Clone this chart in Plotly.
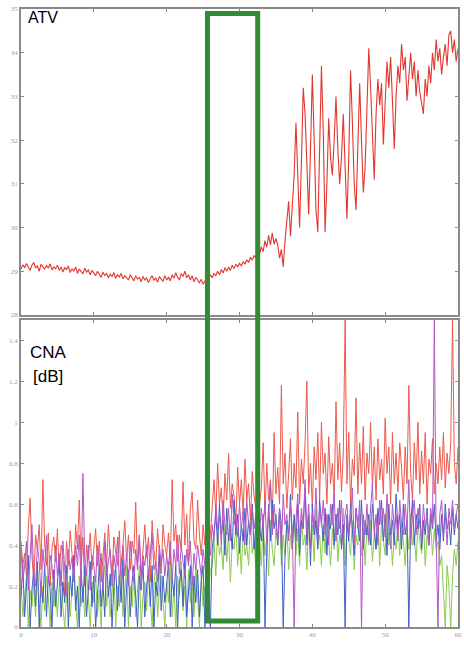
import numpy as np
import plotly.graph_objects as go

# Time axis (s) and the ATV trace, sampled every 0.25
atv_step = 0.25
atv = [
    29.05, 29.15, 29.08, 29.18, 29.1, 29.02, 29.14, 29.2, 29.08, 29.12, 29.0, 29.16, 29.1, 29.05, 29.13, 29.07, 29.17, 29.03, 29.1, 29.06, 29.14,
    29.02, 29.1, 28.98, 29.08, 29.04, 29.12, 28.97, 29.06, 29.0, 29.1, 28.95, 29.05, 29.0, 28.94, 29.07, 28.98, 29.03, 28.92, 29.02, 28.97,
    28.9, 29.0, 28.93, 28.86, 28.98, 28.9, 28.95, 28.85, 28.93, 28.88, 28.97, 28.84, 28.92, 28.87, 28.95, 28.83, 28.9, 28.86, 28.8, 28.92,
    28.84, 28.78, 28.9, 28.82, 28.86, 28.76, 28.88, 28.8, 28.85, 28.74, 28.83, 28.9, 28.79, 28.85, 28.75, 28.88, 28.82, 28.77, 28.9, 28.8,
    28.86, 28.78, 28.92, 28.84, 28.97, 28.86, 28.8, 28.95, 28.88, 29.0, 28.85, 28.92, 28.8, 28.9, 28.76, 28.86, 28.8, 28.74, 28.82, 28.7,
    28.78, 28.86, 28.8, 28.92, 28.85, 28.95, 28.9, 29.0, 28.92, 29.04, 28.96, 29.08, 29.0, 29.1, 29.02, 29.14, 29.06, 29.16, 29.1, 29.18,
    29.12, 29.22, 29.16, 29.26, 29.2, 29.32, 29.25, 29.36, 29.3, 29.48, 29.4, 29.56, 29.45, 29.7, 29.55, 29.82, 29.6, 29.88, 29.62, 29.75,
    29.6, 29.3, 29.5, 29.1, 29.7, 30.2, 30.6, 29.8, 30.5, 31.2, 32.4, 31.0, 30.0, 31.5, 33.2, 32.6, 31.2, 30.3, 31.8, 33.5,
    32.0, 30.4, 29.9, 31.8, 33.7, 32.2, 29.9, 31.0, 32.5, 31.6, 31.2, 32.0, 33.0, 31.8, 31.0, 31.6, 32.6, 31.4, 30.2, 31.6,
    33.6, 32.4, 31.0, 30.4, 32.0, 33.3, 32.0, 30.8, 31.4, 33.0, 34.1, 33.2, 32.3, 31.1, 32.6, 33.4, 32.8, 33.3, 31.9, 33.0,
    33.8, 33.2, 33.9, 32.9, 31.8, 33.0, 33.7, 33.3, 34.2, 33.6, 33.9, 32.9, 33.5, 34.0, 33.4, 33.8, 33.0, 33.6, 33.1, 32.8,
    32.6, 33.4, 33.0, 33.7, 33.3, 34.0, 33.6, 34.3, 33.8, 34.1, 33.5, 33.9, 34.2, 33.7, 34.4, 34.5, 34.0, 34.3, 33.8, 34.1,
]

# CNA channels [dB], sampled every 0.25
cna_step = 0.25
cna_red = [
    0.42, 0.3, 0.36, 0.25, 0.48, 0.63, 0.35, 0.22, 0.45, 0.38, 0.5, 0.28, 0.72, 0.4, 0.3, 0.46, 0.2, 0.38, 0.44, 0.32,
    0.48, 0.26, 0.4, 0.35, 0.15, 0.42, 0.3, 0.47, 0.36, 0.25, 0.5, 0.38, 0.62, 0.3, 0.44, 0.2, 0.4, 0.33, 0.46, 0.28,
    0.38, 0.48, 0.3, 0.42, 0.22, 0.36, 0.46, 0.3, 0.5, 0.35, 0.25, 0.44, 0.38, 0.3, 0.47, 0.2, 0.4, 0.52, 0.32, 0.45,
    0.28, 0.42, 0.36, 0.61, 0.3, 0.45, 0.25, 0.4, 0.5, 0.34, 0.44, 0.22, 0.52, 0.38, 0.3, 0.48, 0.36, 0.26, 0.5, 0.4,
    0.35, 0.46, 0.3, 0.72, 0.42, 0.5, 0.32, 0.45, 0.38, 0.71, 0.4, 0.55, 0.3, 0.58, 0.66, 0.42, 0.38, 0.62, 0.45, 0.35,
    0.5, 0.4, 0.58, 0.35, 0.45,
    0.62, 0.72, 0.55, 0.8, 0.6, 0.68, 0.52, 0.75, 0.62, 0.85, 0.58, 0.7, 0.64, 0.5, 0.78, 0.6, 0.72, 0.55, 0.82, 0.62,
    0.7, 0.52, 0.76, 0.64, 0.58, 0.7,
    0.6, 0.68, 0.9, 0.55, 0.8, 0.62, 0.72, 0.5, 0.95, 0.65, 0.78, 0.6, 1.18, 0.7, 0.85, 0.58, 0.75, 0.92, 0.62, 0.8,
    0.68, 1.05, 0.6, 0.82, 0.7, 0.9, 1.2, 0.65, 0.8, 0.58, 0.88, 0.72, 0.95, 0.62, 1.0, 0.75, 0.85, 0.6, 0.93, 0.7,
    0.8, 0.62, 1.1, 0.72, 0.9, 0.66, 0.85, 1.5, 0.7, 0.95, 0.6, 0.82, 0.74, 1.12, 0.65, 0.9, 0.7, 0.98, 0.62, 0.85,
    0.75, 1.0, 0.68, 0.88, 0.62, 0.92, 0.72, 0.82, 0.65, 1.02, 0.75, 0.88, 0.6, 0.95, 0.7, 0.85, 0.66, 0.9, 0.78, 0.62,
    0.88, 0.7, 1.18, 0.75, 0.62, 0.9, 0.72, 1.0, 0.65, 0.86, 0.7, 0.95, 0.6, 0.82, 0.75, 0.92, 0.65, 0.8, 0.7, 0.88,
    0.72, 0.95, 0.68, 0.85, 0.75, 0.9, 1.5, 0.8, 0.7, 0.88,
]
cna_magenta = [
    0.38, 0.22, 0.3, 0.42, 0.18, 0.35, 0.5, 0.25, 0.2, 0.4, 0.32, 0.15, 0.38, 0.28, 0.45, 0.22, 0.35, 0.3, 0.18, 0.4,
    0.25, 0.36, 0.2, 0.42, 0.3, 0.15, 0.38, 0.28, 0.34, 0.22, 0.4, 0.3, 0.45, 0.2, 0.75, 0.32, 0.25, 0.4, 0.18, 0.35,
    0.3, 0.22, 0.4, 0.28, 0.36, 0.18, 0.42, 0.25, 0.32, 0.38, 0.2, 0.35, 0.28, 0.44, 0.22, 0.3, 0.4, 0.25, 0.36, 0.2,
    0.42, 0.3, 0.22, 0.38, 0.28, 0.45, 0.2, 0.35, 0.3, 0.4, 0.24, 0.36, 0.46, 0.28, 0.32, 0.22, 0.4, 0.3, 0.38, 0.25,
    0.35, 0.28, 0.42, 0.22, 0.38, 0.3, 0.45, 0.26, 0.4, 0.32, 0.24, 0.38, 0.3, 0.42, 0.2, 0.36, 0.28, 0.4, 0.32, 0.25,
    0.38, 0.3, 0.22, 0.4, 0.35,
    0.5, 0.42, 0.6, 0.48, 0.55, 0.4, 0.62, 0.5, 0.45, 0.58, 0.42, 0.65, 0.5, 0.55, 0.44, 0.6, 0.48, 0.56, 0.4, 0.62,
    0.5, 0.45, 0.58, 0.48, 0.55, 0.5,
    0.45, 0.58, 0.48, 0.62, 0.4, 0.55, 0.7, 0.45, 0.6, 0.5, 0.42, 0.58, 0.38, 0.65, 0.5, 0.55, 0.42, 0.6, 0.48, 0.0,
    0.52, 0.65, 0.42, 0.58, 0.5, 0.72, 0.45, 0.6, 0.38, 0.55, 0.48, 0.68, 0.42, 0.58, 0.5, 0.62, 0.45, 0.55, 0.4, 0.6,
    0.5, 0.65, 0.42, 0.58, 0.48, 0.62, 0.4, 0.55, 0.6, 0.45, 0.52, 0.68, 0.4, 0.58, 0.48, 0.62, 0.0, 0.55, 0.45, 0.6,
    0.42, 0.58, 0.7, 0.45, 0.55, 0.4, 0.62, 0.5, 0.58, 0.44, 0.65, 0.5, 0.38, 0.6, 0.48, 0.55, 0.42, 0.62, 0.5, 0.45,
    0.6, 0.48, 0.72, 0.4, 0.55, 0.62, 0.45, 0.58, 0.5, 0.42, 0.6, 0.48, 0.55, 0.4, 0.58, 0.5, 1.5, 0.45, 0.0, 0.55,
    0.62, 0.45, 0.55, 0.4, 0.58, 0.5, 0.62, 0.48, 0.55, 0.6,
]
cna_blue = [
    0.15, 0.3, 0.05, 0.22, 0.35, 0.0, 0.18, 0.28, 0.1, 0.32, 0.0, 0.22, 0.12, 0.3, 0.05, 0.25, 0.18, 0.0, 0.28, 0.1,
    0.2, 0.33, 0.05, 0.22, 0.12, 0.3, 0.0, 0.25, 0.15, 0.35, 0.08, 0.2, 0.0, 0.28, 0.12, 0.3, 0.05, 0.22, 0.32, 0.1,
    0.25, 0.0, 0.18, 0.3, 0.1, 0.22, 0.05, 0.32, 0.15, 0.26, 0.0, 0.2, 0.3, 0.08, 0.25, 0.12, 0.33, 0.0, 0.2, 0.28,
    0.05, 0.22, 0.3, 0.12, 0.0, 0.25, 0.18, 0.32, 0.05, 0.2, 0.28, 0.1, 0.3, 0.0, 0.22, 0.15, 0.35, 0.08, 0.25, 0.12,
    0.2, 0.32, 0.05, 0.25, 0.15, 0.3, 0.0, 0.22, 0.28, 0.1, 0.35, 0.05, 0.2, 0.3, 0.0, 0.25, 0.12, 0.28, 0.05, 0.22,
    0.3, 0.0, 0.18, 0.1, 0.0,
    0.38, 0.48, 0.55, 0.4, 0.6, 0.45, 0.52, 0.35, 0.58, 0.42, 0.5, 0.38, 0.62, 0.45, 0.55, 0.36, 0.5, 0.42, 0.58, 0.4,
    0.52, 0.45, 0.6, 0.38, 0.5, 0.44,
    0.5, 0.42, 0.55, 0.0, 0.38, 0.6, 0.42, 0.62, 0.48, 0.55, 0.4, 0.58, 0.5, 0.0, 0.35, 0.52, 0.45, 0.65, 0.38, 0.55,
    0.42, 0.6, 0.35, 0.52, 0.48, 0.68, 0.4, 0.55, 0.3, 0.6, 0.45, 0.52, 0.38, 0.62, 0.5, 0.42, 0.58, 0.35, 0.55, 0.48,
    0.6, 0.4, 0.55, 0.45, 0.62, 0.38, 0.5, 0.0, 0.55, 0.42, 0.6, 0.48, 0.35, 0.58, 0.5, 0.42, 0.62, 0.38, 0.52, 0.45,
    0.55, 0.4, 0.6, 0.48, 0.38, 0.58, 0.5, 0.62, 0.42, 0.55, 0.35, 0.6, 0.45, 0.52, 0.4, 0.65, 0.48, 0.55, 0.38, 0.6,
    0.45, 0.52, 0.0, 0.5, 0.62, 0.4, 0.55, 0.48, 0.6, 0.38, 0.52, 0.45, 0.58, 0.4, 0.55, 0.48, 0.6, 0.42, 0.5, 0.38,
    0.55, 0.42, 0.6, 0.48, 0.52, 0.4, 0.58, 0.45, 0.55, 0.48,
]
cna_green = [
    0.2, 0.05, 0.15, 0.25, 0.0, 0.18, 0.1, 0.22, 0.05, 0.3, 0.12, 0.0, 0.2, 0.08, 0.25, 0.15, 0.0, 0.22, 0.1, 0.18,
    0.05, 0.2, 0.28, 0.1, 0.0, 0.15, 0.22, 0.05, 0.18, 0.3, 0.12, 0.0, 0.25, 0.1, 0.2, 0.05, 0.28, 0.15, 0.0, 0.22,
    0.12, 0.25, 0.05, 0.18, 0.0, 0.22, 0.3, 0.1, 0.2, 0.05, 0.15, 0.28, 0.0, 0.2, 0.1, 0.25, 0.05, 0.18, 0.3, 0.0,
    0.2, 0.1, 0.25, 0.05, 0.18, 0.3, 0.0, 0.15, 0.22, 0.08, 0.28, 0.12, 0.0, 0.2, 0.32, 0.05, 0.18, 0.25, 0.1, 0.0,
    0.22, 0.12, 0.3, 0.05, 0.2, 0.0, 0.25, 0.15, 0.32, 0.08, 0.2, 0.0, 0.28, 0.12, 0.22, 0.05, 0.3, 0.15, 0.0, 0.25,
    0.1, 0.2, 0.05, 0.15, 0.28,
    0.3, 0.42, 0.25, 0.48, 0.35, 0.4, 0.28, 0.5, 0.32, 0.45, 0.22, 0.42, 0.38, 0.5, 0.3, 0.44, 0.26, 0.48, 0.35, 0.4,
    0.3, 0.52, 0.36, 0.42, 0.28, 0.4,
    0.42, 0.3, 0.5, 0.35, 0.45, 0.25, 0.52, 0.38, 0.3, 0.48, 0.4, 0.55, 0.3, 0.45, 0.35, 0.5, 0.28, 0.45, 0.38, 0.52,
    0.35, 0.48, 0.3, 0.55, 0.4, 0.45, 0.28, 0.52, 0.38, 0.5, 0.32, 0.58, 0.4, 0.45, 0.3, 0.5, 0.36, 0.55, 0.42, 0.3,
    0.48, 0.38, 0.55, 0.32, 0.45, 0.4, 0.58, 0.3, 0.5, 0.42, 0.35, 0.52, 0.28, 0.45, 0.4, 0.55, 0.35, 0.48, 0.3, 0.5,
    0.4, 0.52, 0.32, 0.45, 0.38, 0.55, 0.3, 0.5, 0.42, 0.35, 0.58, 0.4, 0.48, 0.3, 0.45, 0.38, 0.52, 0.35, 0.5, 0.42,
    0.3, 0.48, 0.38, 0.55, 0.4, 0.45, 0.32, 0.5, 0.42, 0.36, 0.52, 0.3, 0.45, 0.4, 0.5, 0.35, 0.48, 0.38, 0.42, 0.3,
    0.35, 0.15, 0.0, 0.3, 0.2, 0.0, 0.25, 0.38, 0.3, 0.42,
]

# Highlighted time window
window_start, window_end = 25.6, 32.5

x_range = [0, 60]
atv_range = [28, 35]
cna_range = [0, 1.5]

t_atv = np.arange(len(atv)) * atv_step
t_cna = np.arange(len(cna_red)) * cna_step

fig = go.Figure()
fig.add_trace(go.Scatter(x=t_atv, y=atv, mode="lines",
                         line=dict(color="#e2372e", width=1.1), xaxis="x", yaxis="y"))

cna_series = [
    (cna_red, "#ec5a4e"),
    (cna_green, "#8acb4e"),
    (cna_blue, "#3f5fc6"),
    (cna_magenta, "#b457c4"),
]
for vals, col in cna_series:
    fig.add_trace(go.Scatter(x=t_cna, y=vals, mode="lines",
                             line=dict(color=col, width=1), xaxis="x2", yaxis="y2"))

axis_common = dict(
    showline=True, linecolor="#8a8a8a", linewidth=1.5, mirror="ticks",
    ticks="inside", ticklen=3, tickcolor="#8a8a8a", showgrid=False, zeroline=False,
    tickfont=dict(family="Liberation Serif", size=7, color="#9a9a9a"),
)

top_domain = [0.5049, 1.0]
bottom_domain = [0.0, 0.4968]

fig.update_layout(
    width=464, height=645,
    margin=dict(l=21, r=2, t=9, b=18),
    paper_bgcolor="white", plot_bgcolor="white",
    showlegend=False,
    xaxis=dict(range=x_range, domain=[0, 1], anchor="y", dtick=10,
               showticklabels=False, **axis_common),
    yaxis=dict(range=atv_range, domain=top_domain, anchor="x", dtick=1, **axis_common),
    xaxis2=dict(range=x_range, domain=[0, 1], anchor="y2", dtick=10, **axis_common),
    yaxis2=dict(range=cna_range, domain=bottom_domain, anchor="x2",
                tickvals=[0, 0.2, 0.4, 0.6, 0.8, 1.0, 1.2, 1.4],
                ticktext=["0", "0.2", "0.4", "0.6", "0.8", "1", "1.2", "1.4"],
                **axis_common),
    annotations=[
        dict(text="ATV", xref="paper", yref="paper", x=0.011, y=0.9855,
             xanchor="left", yanchor="middle", showarrow=False,
             font=dict(family="Liberation Sans", size=16, color="black")),
        dict(text="CNA", xref="paper", yref="paper", x=0.016, y=0.4434,
             xanchor="left", yanchor="middle", showarrow=False,
             font=dict(family="Liberation Sans", size=17, color="black")),
        dict(text="[dB]", xref="paper", yref="paper", x=0.022, y=0.4061,
             xanchor="left", yanchor="middle", showarrow=False,
             font=dict(family="Liberation Sans", size=17, color="black")),
    ],
    shapes=[
        dict(type="rect", xref="x", yref="paper",
             x0=window_start, x1=window_end, y0=0.0097, y1=0.9927,
             line=dict(color="#338a36", width=5), fillcolor="rgba(0,0,0,0)"),
    ],
)

fig.write_html("out.html")
